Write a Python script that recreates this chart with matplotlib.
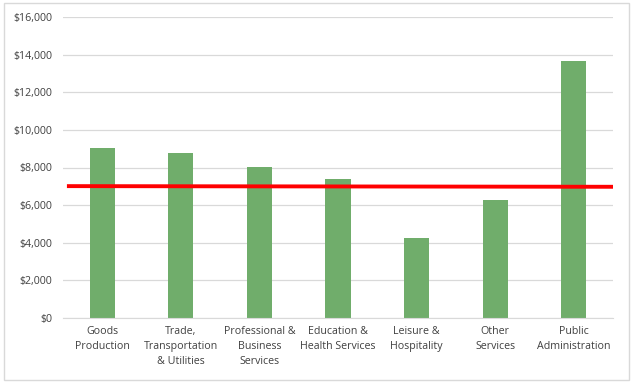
import matplotlib
matplotlib.use("Agg")
import matplotlib.pyplot as plt
from matplotlib.patches import FancyBboxPatch
from matplotlib.ticker import FuncFormatter, MultipleLocator

categories = ["Goods\nProduction", "Trade,\nTransportation\n& Utilities",
              "Professional &\nBusiness\nServices", "Education &\nHealth Services",
              "Leisure &\nHospitality", "Other\nServices", "Public\nAdministration"]
values = [9050, 8750, 8030, 7390, 4250, 6280, 13660]
line_x = [-0.45, 6.5]
line_y = [7010, 6975]

plt.rcParams['font.family'] = ['Open Sans', 'DejaVu Sans']
fig = plt.figure(figsize=(6.34, 3.83), dpi=100)
fig.patches.append(FancyBboxPatch((0.006, 0.008), 0.986, 0.984, boxstyle="square,pad=0",
                                  transform=fig.transFigure, fill=False,
                                  edgecolor="#d9d9d9", linewidth=1.0))
ax = fig.add_axes([63/634, 1-318/383, 550/634, 301/383])
x = list(range(len(categories)))
ax.bar(x, values, width=0.32, color="#70ad6b", zorder=2)
ax.plot(line_x, line_y, color="#ff0000", linewidth=2.8, zorder=3, solid_capstyle='butt')
ax.set_xlim(-0.5, 6.5)
ax.set_ylim(0, 16000)
ax.yaxis.set_major_locator(MultipleLocator(2000))
ax.yaxis.set_major_formatter(FuncFormatter(lambda v, p: f"${v:,.0f}"))
ax.grid(axis='y', color="#d9d9d9", linewidth=0.9, zorder=0)
ax.set_axisbelow(True)
for s in ['top', 'right', 'left']:
    ax.spines[s].set_visible(False)
ax.spines['bottom'].set_color("#d9d9d9")
ax.set_xticks(x)
ax.set_xticklabels(categories, fontsize=7.7, color="#404040", linespacing=1.45)
ax.tick_params(axis='both', length=0, labelsize=7.7, colors="#404040")
ax.tick_params(axis='x', pad=6)
ax.tick_params(axis='y', pad=8)
for lbl in ax.get_xticklabels():
    lbl.set_verticalalignment('top')
fig.savefig("out.png", dpi=100)
